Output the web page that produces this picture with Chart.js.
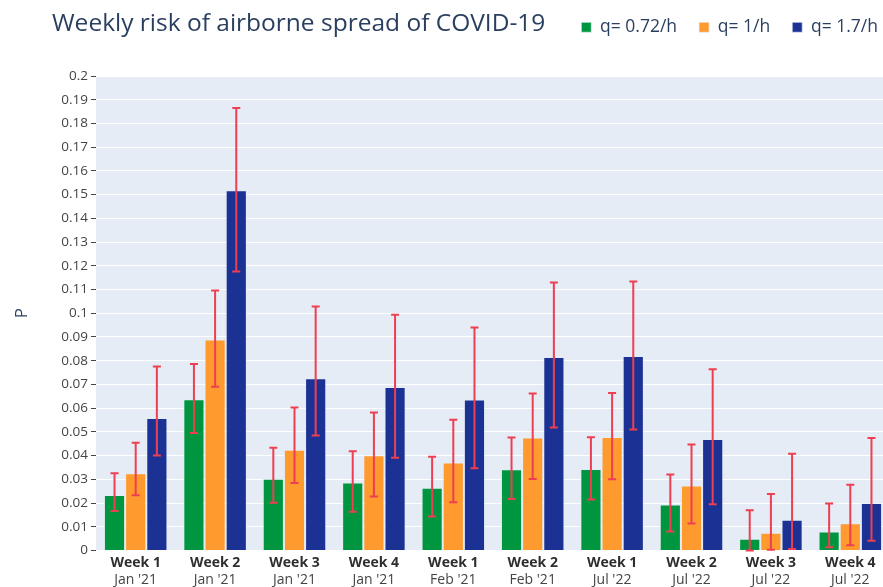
<!DOCTYPE html>
<html>
<head>
<meta charset="utf-8">
<script src="https://cdn.jsdelivr.net/npm/chart.js@4.4.1/dist/chart.umd.min.js"></script>
<style>
  html, body { margin: 0; padding: 0; overflow: hidden; background: #ffffff; width: 883px; height: 587px; }
  canvas { display: block; }
</style>
</head>
<body>
<canvas id="c" width="890" height="587"></canvas>
<script>
// ---- data ----
const weekLabels = ['Week 1', 'Week 2', 'Week 3', 'Week 4', 'Week 1', 'Week 2', 'Week 1', 'Week 2', 'Week 3', 'Week 4'];
const monthLabels = ["Jan '21", "Jan '21", "Jan '21", "Jan '21", "Feb '21", "Feb '21", "Jul '22", "Jul '22", "Jul '22", "Jul '22"];
const seriesNames = ['q= 0.72/h', 'q= 1/h', 'q= 1.7/h'];

const q072 = [0.0234, 0.0638, 0.0302, 0.0287, 0.0265, 0.0342, 0.0343, 0.0194, 0.0049, 0.0080];
const q072Low = [0.0166, 0.0495, 0.0201, 0.0163, 0.0143, 0.0217, 0.0215, 0.0080, 0.0000, 0.0014];
const q072High = [0.0326, 0.0786, 0.0433, 0.0418, 0.0395, 0.0476, 0.0477, 0.0320, 0.0170, 0.0198];

const q1 = [0.0326, 0.0889, 0.0425, 0.0401, 0.0371, 0.0476, 0.0478, 0.0274, 0.0075, 0.0115];
const q1Low = [0.0233, 0.0690, 0.0284, 0.0228, 0.0203, 0.0301, 0.0300, 0.0114, 0.0003, 0.0022];
const q1High = [0.0454, 0.1096, 0.0603, 0.0582, 0.0551, 0.0662, 0.0664, 0.0447, 0.0238, 0.0277];

const q17 = [0.0558, 0.1518, 0.0726, 0.0689, 0.0636, 0.0816, 0.0820, 0.0470, 0.0130, 0.0200];
const q17Low = [0.0400, 0.1176, 0.0485, 0.0391, 0.0347, 0.0518, 0.0510, 0.0195, 0.0006, 0.0041];
const q17High = [0.0776, 0.1865, 0.1028, 0.0994, 0.0940, 0.1130, 0.1134, 0.0764, 0.0408, 0.0474];

const yMin = 0, yMax = 0.2, yStep = 0.01;
const chartTitle = 'Weekly risk of airborne spread of COVID-19';
const yTitle = 'P';

// ---- styling ----
const FONT = "'Open Sans', 'Noto Sans', sans-serif";
const colors = ['#00963F', '#FF9A2E', '#1B3294'];

const plotBg = {
  id: 'plotBg',
  beforeDraw(chart) {
    const { ctx, chartArea: a } = chart;
    ctx.save();
    ctx.fillStyle = '#E5ECF6';
    ctx.fillRect(a.left, a.top, a.right - a.left, a.bottom - a.top);
    ctx.restore();
  }
};

const headerPos = {
  id: 'headerPos',
  afterLayout(chart) {
    const t = chart.titleBlock;
    if (t) {
      const h = t.height;
      t.left = 52;
      t.top = 9;
      t.bottom = t.top + h;
    }
    const l = chart.legend;
    if (l) {
      const h = l.height;
      l.right = 900;
      l.top = -3.5;
      l.bottom = l.top + h;
    }
  }
};

const errorBars = {
  id: 'errorBars',
  afterDatasetsDraw(chart) {
    const ctx = chart.ctx;
    const ys = chart.scales.y;
    chart.data.datasets.forEach((ds, i) => {
      const meta = chart.getDatasetMeta(i);
      if (meta.hidden) return;
      meta.data.forEach((bar, j) => {
        const lo = ys.getPixelForValue(ds.errLow[j]);
        const hi = ys.getPixelForValue(ds.errHigh[j]);
        const x = bar.x;
        ctx.save();
        ctx.strokeStyle = '#EE3F52';
        ctx.lineWidth = 2;
        ctx.beginPath();
        ctx.moveTo(x, lo); ctx.lineTo(x, hi);
        ctx.moveTo(x - 4, lo); ctx.lineTo(x + 4, lo);
        ctx.moveTo(x - 4, hi); ctx.lineTo(x + 4, hi);
        ctx.stroke();
        ctx.restore();
      });
    });
  }
};

const values = [q072, q1, q17];
const lows = [q072Low, q1Low, q17Low];
const highs = [q072High, q1High, q17High];

const datasets = seriesNames.map((name, i) => ({
  label: name,
  data: values[i],
  errLow: lows[i],
  errHigh: highs[i],
  backgroundColor: colors[i],
  borderColor: 'rgba(229,236,246,0.7)',
  borderWidth: 1,
  xAxisID: 'x',
  yAxisID: 'y',
  categoryPercentage: 0.8,
  barPercentage: 1.0
}));

new Chart(document.getElementById('c'), {
  type: 'bar',
  data: { labels: weekLabels, datasets },
  plugins: [plotBg, headerPos, errorBars],
  options: {
    responsive: false,
    animation: false,
    devicePixelRatio: 1,
    layout: { padding: { top: 0, left: 0, right: 0, bottom: 0 } },
    plugins: {
      tooltip: { enabled: false },
      title: {
        display: true,
        text: chartTitle,
        align: 'start',
        color: '#2a3f5f',
        font: { family: FONT, size: 24.5, weight: 'normal', lineHeight: 1.2 },
        padding: { top: 0, bottom: -2.9 },
        weight: 2000
      },
      legend: {
        display: true,
        position: 'top',
        align: 'end',
        weight: 3000,
        labels: {
          color: '#2a3f5f',
          font: { family: FONT, size: 17.5 },
          boxWidth: 10,
          boxHeight: 10,
          padding: 22
        }
      }
    },
    scales: {
      x: {
        type: 'category',
        offset: true,
        afterFit(s) { s.height = 19.5; },
        grid: { display: false, drawTicks: false },
        border: { display: false },
        ticks: {
          color: '#2e2e2e',
          font: { family: FONT, size: 14, weight: 'bold' },
          padding: 4,
          autoSkip: false,
          maxRotation: 0
        }
      },
      x2: {
        type: 'category',
        labels: monthLabels,
        offset: true,
        position: 'bottom',
        afterFit(s) { s.height = 17; },
        grid: { display: false, drawTicks: false },
        border: { display: false },
        ticks: {
          color: '#444',
          font: { family: FONT, size: 14 },
          padding: 1.5,
          autoSkip: false,
          maxRotation: 0
        }
      },
      y: {
        type: 'linear',
        min: yMin,
        max: yMax,
        afterFit(s) { s.width = 96; },
        grid: { color: '#ffffff', lineWidth: 1, tickColor: '#444', tickLength: 5, drawTicks: true },
        border: { display: false },
        ticks: {
          stepSize: yStep,
          autoSkip: false,
          color: '#444',
          padding: 3,
          font: { family: FONT, size: 13.5 },
          callback: (v) => String(+Number(v).toFixed(2))
        },
        title: {
          display: true,
          text: yTitle,
          color: '#2a3f5f',
          font: { family: FONT, size: 17 },
          padding: { top: 12, bottom: 0 }
        }
      }
    }
  }
});
</script>
</body>
</html>
